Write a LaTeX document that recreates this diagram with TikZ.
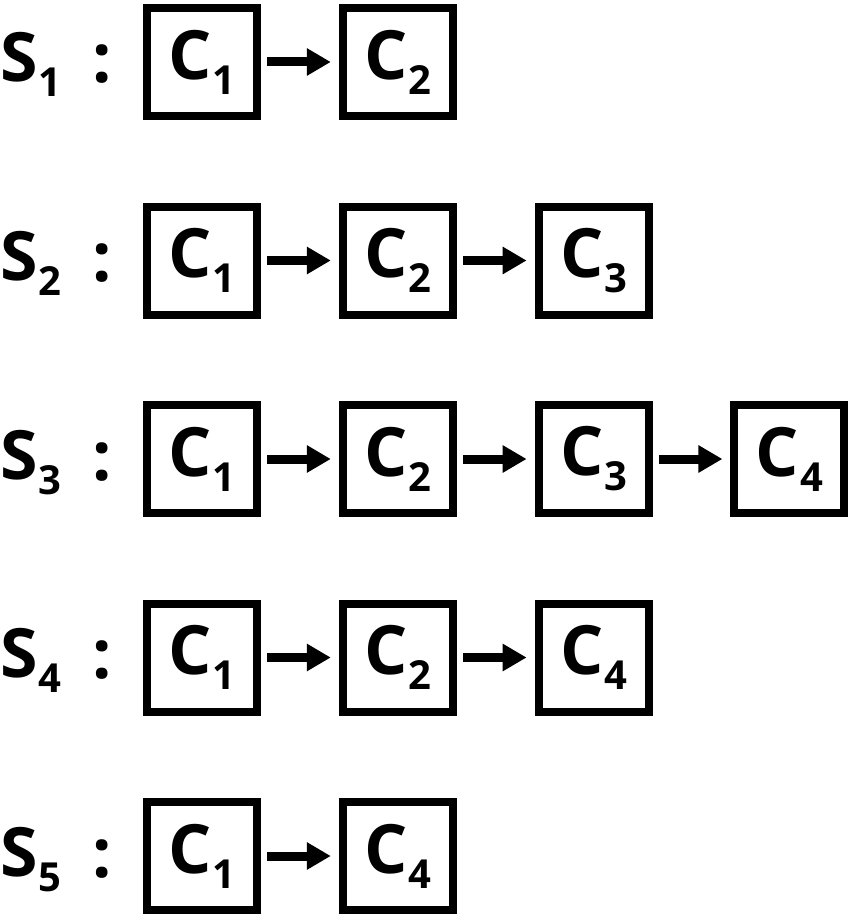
\documentclass[tikz,border=0pt]{standalone}
\usepackage{fontspec}
\setmainfont{Open Sans}
\usetikzlibrary{arrows.meta}

\newcommand{\lbl}[2]{#1\kern1pt\raisebox{-15pt}{\fontsize{40}{40}\selectfont #2}}

\begin{document}
\begin{tikzpicture}[x=1pt, y=-1pt, >={Triangle[length=24pt,width=26pt]},
  cell/.style={draw, line width=8pt, minimum width=110pt, minimum height=108pt, inner sep=0pt, font=\fontsize{68}{68}\selectfont\bfseries},
  link/.style={->, line width=9pt, shorten <=6pt, shorten >=8pt},
  seqlabel/.style={inner sep=0pt, font=\fontsize{68}{68}\selectfont\bfseries}]

\useasboundingbox (0,0) rectangle (853,920);

% Sequences
\foreach \r/\cells in {1/{1,2}, 2/{1,2,3}, 3/{1,2,3,4}, 4/{1,2,4}, 5/{1,4}} {
	\pgfmathsetmacro\y{62+198.5*(\r-1)}
	\node[seqlabel, anchor=base west] (s\r) at (0, \y+20) {\lbl{S}{\r}};
	\node[seqlabel, anchor=base] (col\r) at (102, \y+21) {:};
	\foreach \c [count=\k] in \cells {
		\pgfmathsetmacro\x{202+195.8*(\k-1)}
		\node[cell] (c\r\k) at (\x, \y) {\lbl{C}{\c}};
		\ifnum\k>1
			\pgfmathtruncatemacro\prev{\k-1}
			\draw[link] (c\r\prev) -- (c\r\k);
		\fi
	}
}

\end{tikzpicture}
\end{document}
